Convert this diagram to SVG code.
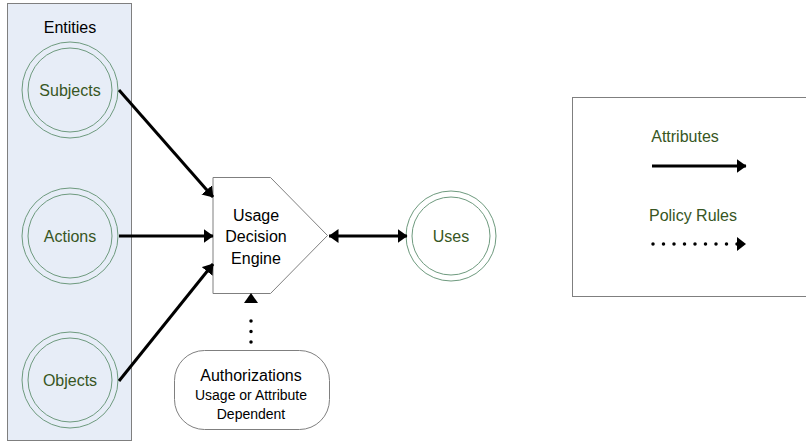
<svg xmlns="http://www.w3.org/2000/svg" width="806" height="444" viewBox="0 0 806 444">
<style>
.lbl{font-family:"Liberation Sans",Arial,sans-serif;font-size:16px;fill:#375623;text-anchor:middle}
.blk{font-family:"Liberation Sans",Arial,sans-serif;font-size:16px;fill:#000;text-anchor:middle}
.sm{font-size:14px}
.ring{fill:none;stroke:#6e9a7e;stroke-width:1}
.box{fill:#fff;stroke:#7f7f7f;stroke-width:1}
.con{stroke:#000;stroke-width:3;fill:none}
.dot{stroke:#000;stroke-width:3.5;fill:none;stroke-linecap:round;stroke-dasharray:0 10.5}
</style>
<defs>
<marker id="ah" viewBox="0 0 10 14" refX="9.5" refY="7" markerWidth="10" markerHeight="14" markerUnits="userSpaceOnUse" orient="auto-start-reverse">
<path d="M0,0 L10,7 L0,14 Z" fill="#000"/>
</marker>
</defs>
<rect width="806" height="444" fill="#fff"/>
<g id="entities">
<rect x="7.5" y="3.5" width="124" height="437" fill="#e7edf7" stroke="#7f7f7f"/>
<text class="blk" x="70" y="33">Entities</text>
</g>
<g id="subjects">
<circle class="ring" cx="70" cy="90" r="48"/>
<circle class="ring" cx="70" cy="90" r="42"/>
<text class="lbl" x="70" y="96">Subjects</text>
</g>
<g id="actions">
<circle class="ring" cx="70" cy="236" r="48"/>
<circle class="ring" cx="70" cy="236" r="42"/>
<text class="lbl" x="70" y="242">Actions</text>
</g>
<g id="objects">
<circle class="ring" cx="70" cy="380" r="48"/>
<circle class="ring" cx="70" cy="380" r="42"/>
<text class="lbl" x="70" y="386">Objects</text>
</g>
<g id="engine">
<path class="box" d="M213,177.5 L270.5,177.5 L327.5,235.5 L270.5,293.5 L213,293.5 Z"/>
<text class="blk" x="256" y="221">Usage</text>
<text class="blk" x="256" y="242">Decision</text>
<text class="blk" x="256" y="264">Engine</text>
</g>
<g id="uses">
<circle class="ring" cx="451" cy="236" r="45"/>
<circle class="ring" cx="451" cy="236" r="39"/>
<text class="lbl" x="451" y="242">Uses</text>
</g>
<g id="authorizations">
<rect class="box" x="174.5" y="350.5" width="155" height="79" rx="30"/>
<text class="blk" x="251" y="381">Authorizations</text>
<text class="blk sm" x="251" y="400">Usage or Attribute</text>
<text class="blk sm" x="251" y="419">Dependent</text>
</g>
<g id="legend">
<rect class="box" x="572.5" y="97.5" width="240" height="199"/>
<text class="lbl" x="685" y="142">Attributes</text>
<text class="lbl" x="693" y="221">Policy Rules</text>
</g>
<g id="connectors">
<line class="con" x1="119" y1="90" x2="213" y2="197" marker-end="url(#ah)"/>
<line class="con" x1="119" y1="236" x2="213" y2="236" marker-end="url(#ah)"/>
<line class="con" x1="119" y1="381" x2="213" y2="264" marker-end="url(#ah)"/>
<line class="con" x1="329" y1="236" x2="407" y2="236" marker-start="url(#ah)" marker-end="url(#ah)"/>
<line class="dot" x1="251" y1="342" x2="251" y2="311"/>
<path d="M244,303 L251,293 L258,303 Z" fill="#000"/>
<line class="con" x1="652" y1="166" x2="746" y2="166" marker-end="url(#ah)"/>
<line class="dot" x1="653" y1="244" x2="738" y2="244"/>
<path d="M737,237 L746,244 L737,251 Z" fill="#000"/>
</g>
</svg>
